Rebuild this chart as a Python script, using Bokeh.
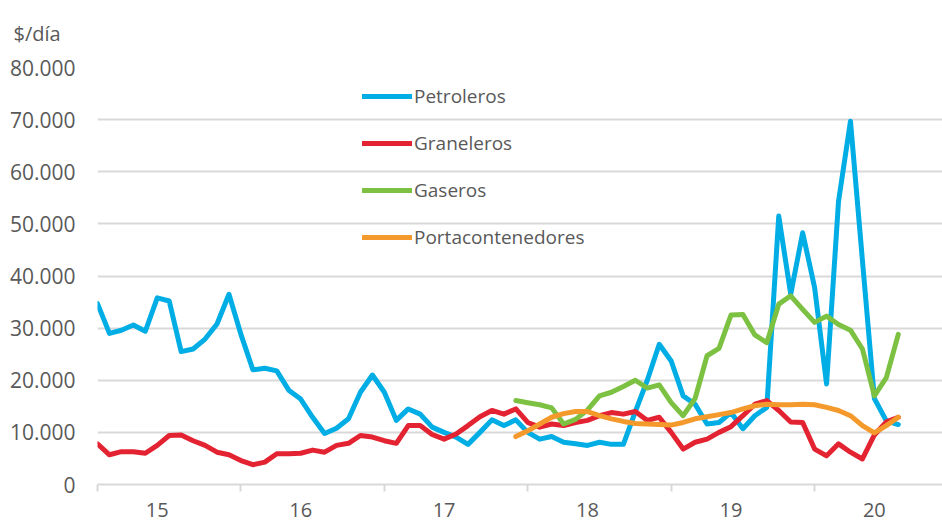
from bokeh.plotting import figure
from bokeh.models import FixedTicker, Range1d, Legend, LegendItem
from bokeh.embed import file_html
from bokeh.resources import INLINE

# ---------------- data (monthly index) ----------------
meses = list(range(68))
inicio_serie_corta = 35

petroleros = [34700, 29000, 29600, 30600, 29400, 35800, 35200, 25500, 26000, 27900,
              30800, 36500, 28800, 22000, 22300, 21800, 18100, 16400, 12900, 9800,
              10800, 12600, 17700, 21000, 17700, 12300, 14500, 13500, 11000, 10000,
              9100, 7700, 10000, 12400, 11300, 12400, 10000, 8700, 9200, 8100,
              7800, 7500, 8100, 7700, 7700, 14000, 20000, 26900, 23700, 17000,
              15400, 11600, 11900, 13800, 10700, 13200, 14800, 51500, 36500, 48300,
              37800, 19300, 54300, 69700, 43000, 16500, 12200, 11500]

graneleros = [7800, 5700, 6300, 6300, 6000, 7500, 9400, 9500, 8400, 7500,
              6200, 5700, 4600, 3800, 4300, 5900, 5900, 6000, 6600, 6200,
              7500, 7900, 9400, 9100, 8400, 7900, 11300, 11300, 9600, 8700,
              9700, 11300, 13000, 14200, 13500, 14500, 11900, 11000, 11600, 11300,
              11900, 12300, 13200, 13800, 13500, 14000, 12300, 12900, 10000, 6800,
              8100, 8700, 10000, 11100, 13200, 15400, 16100, 14200, 12000, 11900,
              6800, 5500, 7800, 6200, 4900, 9500, 12000, 12900]

gaseros = [16100, 15700, 15300, 14700, 11600, 12500, 14300, 17000, 17700, 18800,
           20000, 18500, 19100, 15700, 13200, 16500, 24700, 26100, 32500, 32600,
           28700, 27200, 34600, 36200, 33600, 31100, 32300, 30700, 29600, 26000,
           17000, 20500, 28800]

portacontenedores = [9200, 10300, 11600, 12900, 13600, 14000, 14000, 13200, 12600, 12100,
                     11700, 11600, 11500, 11400, 11900, 12600, 13000, 13400, 13800, 14500,
                     15100, 15400, 15300, 15300, 15400, 15300, 14800, 14200, 13200, 11300,
                     9900, 11300, 12900]

anios = ["15", "16", "17", "18", "19", "20"]
pos_etiquetas = [5, 17, 29, 41, 53, 65]
pos_marcas = [0, 12, 24, 36, 48, 60]
valores_y = [0, 10000, 20000, 30000, 40000, 50000, 60000, 70000, 80000]

meses_cortos = meses[inicio_serie_corta:]

# ---------------- figure ----------------
FONT = "Open Sans"
GRIS_TXT = "#595959"
GRIS_LIN = "#d9d9d9"

p = figure(width=942, height=524, output_backend="svg", toolbar_location=None,
           title="$/día",
           x_range=Range1d(0, 70.7), y_range=Range1d(0, 80000), min_border=0,
           min_border_left=97, min_border_right=0, min_border_top=66, min_border_bottom=40)
p.outline_line_color = None
p.background_fill_color = "white"
p.border_fill_color = "white"

p.title.align = "left"
p.title.vertical_align = "top"
p.title.offset = -84
p.title.standoff = 38
p.title.text_font = FONT
p.title.text_font_size = "20px"
p.title.text_font_style = "normal"
p.title.text_color = GRIS_TXT

p.xgrid.visible = False
p.ygrid.ticker = FixedTicker(ticks=valores_y)
p.ygrid.grid_line_color = GRIS_LIN
p.ygrid.grid_line_width = 2

# y axis
p.yaxis.ticker = FixedTicker(ticks=valores_y)
p.yaxis.major_label_overrides = {v: (f"{v:,}".replace(",", ".") if v else "0") for v in valores_y}
p.yaxis.axis_line_color = None
p.yaxis.major_tick_line_color = None
p.yaxis.minor_tick_line_color = None
p.yaxis.major_tick_out = 0
p.yaxis.major_tick_in = 0
p.yaxis.major_label_standoff = 22
p.yaxis.major_label_text_font = FONT
p.yaxis.major_label_text_font_size = "21px"
p.yaxis.major_label_text_color = GRIS_TXT

# x axis: year names mid-year (major ticks, no marks); marks at year boundaries (minor)
p.xaxis.ticker = FixedTicker(ticks=pos_etiquetas, minor_ticks=pos_marcas)
p.xaxis.major_label_overrides = {pos: lab for pos, lab in zip(pos_etiquetas, anios)}
p.xaxis.axis_line_color = GRIS_LIN
p.xaxis.axis_line_width = 2
p.xaxis.major_tick_line_color = None
p.xaxis.major_tick_out = 0
p.xaxis.major_tick_in = 0
p.xaxis.minor_tick_out = 7
p.xaxis.minor_tick_in = 0
p.xaxis.minor_tick_line_color = GRIS_LIN
p.xaxis.minor_tick_line_width = 2
p.xaxis.major_label_standoff = 11
p.xaxis.major_label_text_font = FONT
p.xaxis.major_label_text_font_size = "20px"
p.xaxis.major_label_text_color = GRIS_TXT

# ---------------- series ----------------
estilo = dict(line_width=5, line_join="round", line_cap="round")
r1 = p.line(meses, petroleros, line_color="#00ADE4", **estilo)
r2 = p.line(meses, graneleros, line_color="#E42332", **estilo)
r3 = p.line(meses_cortos, gaseros, line_color="#7DC142", **estilo)
r4 = p.line(meses_cortos, portacontenedores, line_color="#F49A2C", **estilo)

legend = Legend(items=[LegendItem(label="Petroleros", renderers=[r1]),
                       LegendItem(label="Graneleros", renderers=[r2]),
                       LegendItem(label="Gaseros", renderers=[r3]),
                       LegendItem(label="Portacontenedores", renderers=[r4])],
                location=(265, 234))
legend.border_line_color = None
legend.background_fill_alpha = 0
legend.padding = 0
legend.margin = 0
legend.glyph_width = 50
legend.glyph_height = 20
legend.label_height = 26
legend.label_standoff = 2
legend.spacing = 21
legend.label_text_font = FONT
legend.label_text_font_size = "19px"
legend.label_text_color = GRIS_TXT
p.add_layout(legend)

open("out.html", "w").write(file_html(p, INLINE))
